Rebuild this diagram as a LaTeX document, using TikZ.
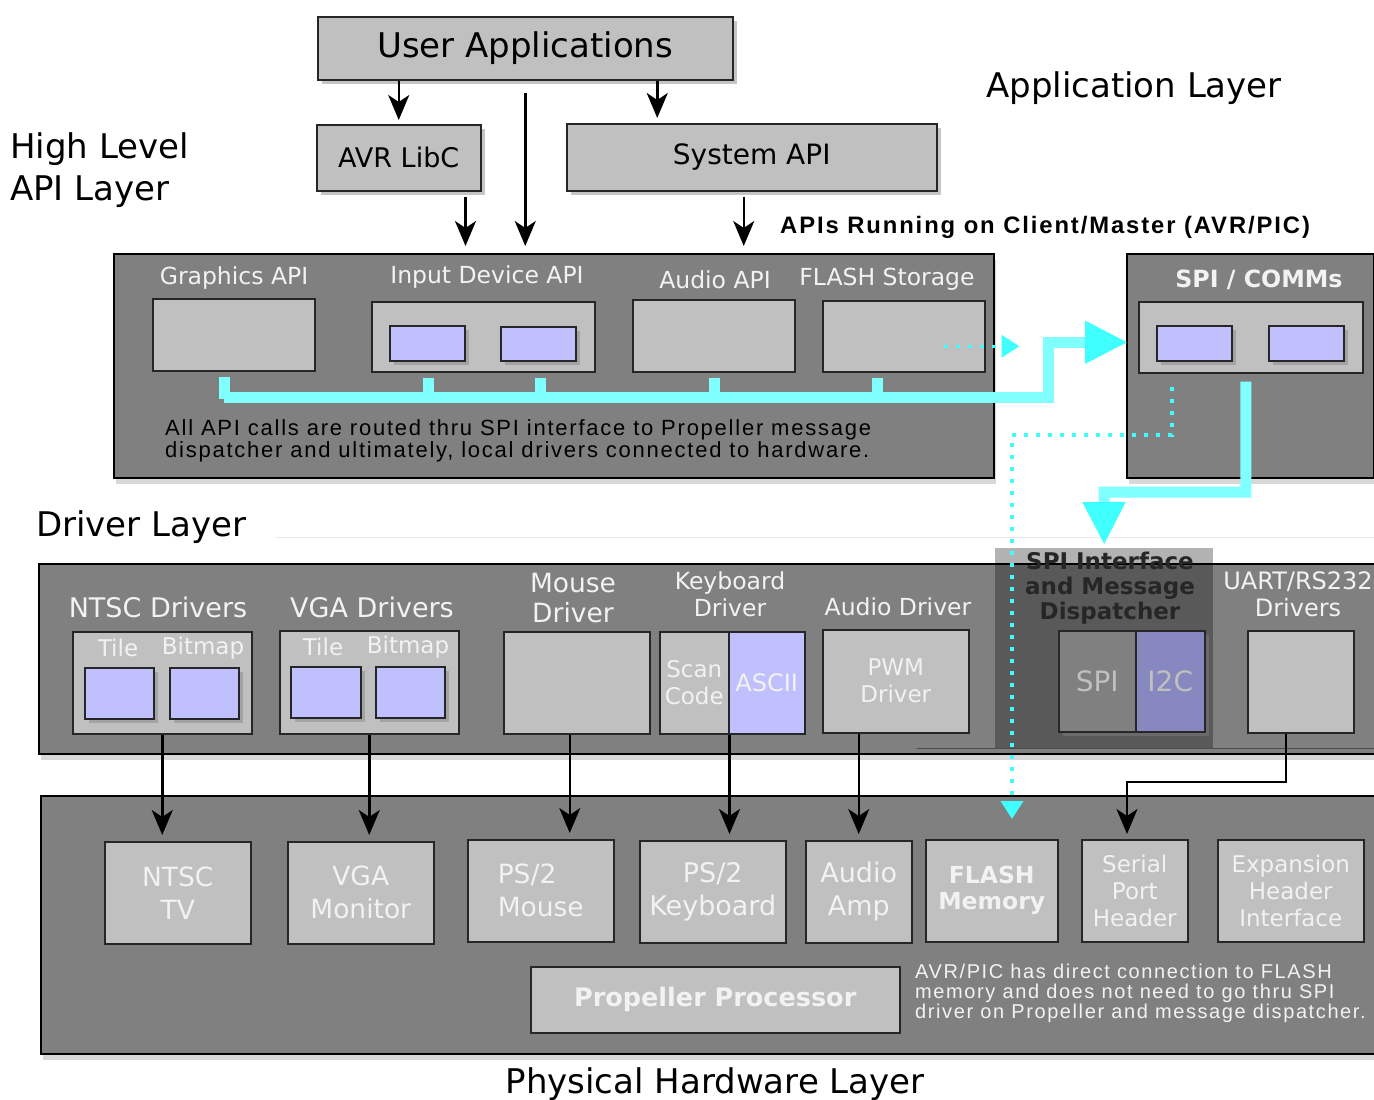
\documentclass[tikz,border=0pt]{standalone}
\usepackage{fontspec}
\setmainfont{DejaVu Sans}
\newfontfamily\arialf[LetterSpace=8]{Liberation Sans}
\usetikzlibrary{arrows.meta,shadows}
\newcommand\fz[2]{\fontsize{#1}{#2}\selectfont}
\definecolor{panelgray}{HTML}{808080}
\definecolor{boxgray}{HTML}{C0C0C0}
\definecolor{lav}{HTML}{C0C0FF}
\definecolor{i2cblue}{HTML}{8888C0}
\definecolor{busc}{HTML}{80FFFF}
\definecolor{headc}{HTML}{40FFFF}
\definecolor{txtw}{HTML}{F2F2F2}
\begin{document}
\begin{tikzpicture}[x=1pt, y=-1pt,
  panel/.style={draw=black, line width=1.5pt, fill=panelgray, anchor=north west, inner sep=0pt,
    drop shadow={shadow xshift=2pt, shadow yshift=-6pt, opacity=.3}},
  gbox/.style={draw=black!85, line width=1.5pt, fill=boxgray, anchor=north west, inner sep=0pt,
    align=center, text=txtw, drop shadow={shadow xshift=4pt, shadow yshift=-4pt, opacity=.45}},
  bbox/.style={gbox, fill=lav},
  lbl/.style={text=txtw, align=center, inner sep=0pt},
  ttl/.style={font=\fz{34}{42}, align=left, inner sep=0pt},
  dn/.style={line width=2.5pt, -{Stealth[length=25pt, width=21pt, inset=7pt]}},
  bus/.style={color=busc, line width=11pt},
  bighead/.style={-{Triangle[length=43pt, width=40pt, color=headc]}},
  dots/.style={color=headc, line width=3.5pt, dash pattern=on 4pt off 8pt,
    -{Triangle[length=18pt, width=22pt]}}]
  \useasboundingbox (0,0) rectangle (1374,1100);
  \fill[white] (0,0) rectangle (1374,1100);

  % application layer
  \node[gbox, minimum width=415pt, minimum height=63pt, text=black, font=\fz{34}{38}] (userapp) at (317,16) {User Applications};
  \node[gbox, minimum width=164pt, minimum height=66pt, text=black, font=\fz{27}{30}] (avrlibc) at (316,124) {AVR LibC};
  \node[gbox, minimum width=370pt, minimum height=67pt, text=black, font=\fz{28}{30}] (sysapi) at (566,123) {System API};
  \node[ttl, anchor=west] (hlapi) at (10,170) {High Level\\API Layer};
  \node[ttl] (applayer) at (1134,88) {Application Layer};
  \node[font=\arialf\bfseries\fz{23.8}{26}, anchor=west, inner sep=0pt] (clientlbl) at (780,227) {APIs Running on Client/Master (AVR/PIC)};

  % api panels
  \node[panel, minimum width=880pt, minimum height=224pt] (apipanel) at (113,253) {};
  \node[panel, minimum width=247pt, minimum height=224pt] (commpanel) at (1126,253) {};
  \node[lbl, font=\fz{23.5}{26}] (gfxlbl) at (234,278) {Graphics API};
  \node[lbl, font=\fz{23.5}{26}] (inplbl) at (487,277) {Input Device API};
  \node[lbl, font=\fz{23.5}{26}] (audlbl) at (715,280) {Audio API};
  \node[lbl, font=\fz{23.5}{26}] (flslbl) at (887,279) {FLASH Storage};
  \node[lbl, font=\bfseries\fz{23.7}{26}] (commlbl) at (1259,280) {SPI / COMMs};
  \node[gbox, minimum width=162pt, minimum height=72pt] (gfx) at (152,298) {};
  \node[gbox, minimum width=223pt, minimum height=70pt] (inpbox) at (371,301) {};
  \node[bbox, minimum width=75pt, minimum height=35pt] (inpA) at (389,325) {};
  \node[bbox, minimum width=75pt, minimum height=34pt] (inpB) at (500,326) {};
  \node[gbox, minimum width=162pt, minimum height=72pt] (audbox) at (632,299) {};
  \node[gbox, minimum width=162pt, minimum height=71pt] (flsbox) at (822,300) {};
  \node[gbox, minimum width=224pt, minimum height=71pt] (commbox) at (1138,301) {};
  \node[bbox, minimum width=75pt, minimum height=35pt] (commA) at (1156,325) {};
  \node[bbox, minimum width=75pt, minimum height=35pt] (commB) at (1268,325) {};
  \node[font=\arialf\fz{22}{22}, anchor=north west, align=left, inner sep=0pt] (apinote) at (165,419)
    {All API calls are routed thru SPI interface to Propeller message\\dispatcher and ultimately, local drivers connected to hardware.};

  % driver layer
  \node[ttl, anchor=west] (drvlayer) at (36,527) {Driver Layer};
  \draw[black!8, line width=1pt] (275,537) -- (1374,537);
  \node[panel, minimum width=1345pt, minimum height=190pt] (drvpanel) at (38,563) {};
  \node[anchor=north west, minimum width=218pt, minimum height=200pt, fill=black, fill opacity=.3, inner sep=0pt] (dispatch) at (995,548) {};
  \node[font=\bfseries\fz{23}{25}, text=black!85, align=center, inner sep=0pt] (displbl) at (1110,588) {SPI Interface\\and Message\\Dispatcher};
  \node[lbl, font=\fz{27}{30}] (ntsclbl) at (158,607) {NTSC Drivers};
  \node[lbl, font=\fz{27}{30}] (vgalbl) at (372,607) {VGA Drivers};
  \node[lbl, font=\fz{26.5}{30}] (mouselbl) at (573,598) {Mouse\\Driver};
  \node[lbl, font=\fz{23.5}{27}] (kbdlbl) at (730,594) {Keyboard\\Driver};
  \node[lbl, font=\fz{23.5}{27}] (audiolbl) at (898,607) {Audio Driver};
  \node[lbl, font=\fz{24}{27}] (uartlbl) at (1298,594) {UART/RS232\\Drivers};
  \node[gbox, minimum width=179pt, minimum height=102pt] (ntscdrv) at (72,631) {};
  \node[lbl, font=\fz{23}{25}] (ntsctile) at (118,648) {Tile};
  \node[lbl, font=\fz{23}{25}] (ntscbmp) at (203,648) {Bitmap};
  \node[bbox, minimum width=69pt, minimum height=51pt] (ntscA) at (84,667) {};
  \node[bbox, minimum width=69pt, minimum height=51pt] (ntscB) at (169,667) {};
  \node[gbox, minimum width=179pt, minimum height=103pt] (vgadrv) at (279,630) {};
  \node[lbl, font=\fz{23}{25}] (vgatile) at (323,647) {Tile};
  \node[lbl, font=\fz{23}{25}] (vgabmp) at (408,647) {Bitmap};
  \node[bbox, minimum width=70pt, minimum height=51pt] (vgaA) at (290,666) {};
  \node[bbox, minimum width=69pt, minimum height=51pt] (vgaB) at (375,666) {};
  \node[gbox, minimum width=146pt, minimum height=102pt] (mousedrv) at (503,631) {};
  \node[gbox, minimum width=69pt, minimum height=102pt, font=\fz{23}{27}] (scanbox) at (659,631) {Scan\\Code};
  \node[bbox, minimum width=76pt, minimum height=102pt, font=\fz{24}{27}] (asciibox) at (728,631) {ASCII};
  \node[gbox, minimum width=146pt, minimum height=103pt, font=\fz{23}{27}] (pwmdrv) at (822,629) {PWM\\Driver};
  \node[gbox, fill=panelgray, minimum width=77pt, minimum height=101pt, text=boxgray, font=\fz{28}{30}] (spibox) at (1058,630) {SPI};
  \node[gbox, fill=i2cblue, minimum width=69pt, minimum height=101pt, text=boxgray, font=\fz{28}{30}] (i2cbox) at (1135,630) {I2C};
  \node[gbox, minimum width=106pt, minimum height=102pt] (uartdrv) at (1247,630) {};
  \draw[black!70, line width=1pt] (917,748) -- (1374,748);

  % physical hardware layer
  \node[panel, minimum width=1345pt, minimum height=258pt] (hwpanel) at (40,795) {};
  \node[gbox, minimum width=146pt, minimum height=102pt, font=\fz{26.5}{33}] (ntsctv) at (104,841) {NTSC\\TV};
  \node[gbox, minimum width=146pt, minimum height=102pt, font=\fz{26.5}{33}] (vgamon) at (287,841) {VGA\\Monitor};
  \node[gbox, minimum width=146pt, minimum height=102pt, font=\fz{26.5}{33}, align=left] (ps2mouse) at (467,839) {PS/2\\Mouse};
  \node[gbox, minimum width=146pt, minimum height=102pt, font=\fz{27}{33}] (ps2kbd) at (639,840) {PS/2\\Keyboard};
  \node[gbox, minimum width=106pt, minimum height=102pt, font=\fz{27}{33}] (audioamp) at (805,840) {Audio\\Amp};
  \node[gbox, minimum width=132pt, minimum height=102pt, font=\bfseries\fz{23.5}{26}] (flashmem) at (925,839) {FLASH\\Memory};
  \node[gbox, minimum width=106pt, minimum height=102pt, font=\fz{23}{27}] (serial) at (1081,839) {Serial\\Port\\Header};
  \node[gbox, minimum width=146pt, minimum height=102pt, font=\fz{23}{27}] (expan) at (1217,839) {Expansion\\Header\\Interface};
  \node[gbox, minimum width=369pt, minimum height=66pt, font=\bfseries\fz{25.5}{28}] (propeller) at (530,966) {Propeller Processor};
  \node[font=\arialf\fz{20}{20}, text=txtw, anchor=north west, align=left, inner sep=0pt] (avrnote) at (915,964)
    {AVR/PIC has direct connection to FLASH\\memory and does not need to go thru SPI\\driver on Propeller and message dispatcher.};
  \node[ttl] (hwlayer) at (715,1084) {Physical Hardware Layer};

  % arrows from the applications
  \draw[dn, shorten >=4pt] (avrlibc.north |- userapp.south) -- (avrlibc.north);
  \coordinate (ua2) at ([xshift=132pt]userapp.south);
  \draw[dn, shorten >=5pt] (ua2) -- (ua2 |- sysapi.north);
  \draw[dn, shorten <=12pt, shorten >=7pt] (userapp.south) -- (userapp.south |- apipanel.north);
  \coordinate (lc) at ([xshift=-16pt]avrlibc.south east);
  \draw[dn, shorten <=5pt, shorten >=7pt] (lc) -- (lc |- apipanel.north);
  \coordinate (sa) at ([xshift=-8pt]sysapi.south);
  \draw[dn, shorten <=5pt, shorten >=7pt] (sa) -- (sa |- apipanel.north);

  % spi bus
  \coordinate (busL) at (224,397);
  \coordinate (busR) at (1048,397);
  \coordinate (commtip) at ([xshift=-10pt, yshift=-5pt]commbox.west);
  \foreach \n/\dx in {gfx/-9, inpbox/-55, inpbox/57, audbox/1, flsbox/-26}
    \draw[bus] ([xshift=\dx pt, yshift=-5pt]\n.south) -- ++(0,22);
  \draw[bus, bighead] (busL) -- (busR) |- (commtip);
  \coordinate (commout) at ([xshift=-5pt, yshift=-8pt]commbox.south);
  \coordinate (commturn) at (1104,492);
  \draw[bus, bighead, shorten >=3pt] (commout) |- (commturn) -- (dispatch.north);
  \coordinate (flsdot) at ([xshift=-42pt, yshift=-10pt]flsbox.east);
  \draw[dots] (flsdot) -- ++(76,0);
  \coordinate (commdot) at ([xshift=-79pt, yshift=-13pt]commbox.south);
  \coordinate (dotturn) at (1012,435);
  \draw[dots, shorten >=20pt] (commdot) |- (dotturn) -- (dotturn |- flashmem.north);

  % drivers to hardware
  \draw[dn, shorten >=6pt] (ntscdrv.south) -- (ntscdrv.south |- ntsctv.north);
  \draw[dn, shorten >=6pt] (vgadrv.south) -- (vgadrv.south |- vgamon.north);
  \coordinate (m1) at ([xshift=-7pt]mousedrv.south);
  \draw[dn, shorten >=6pt] (m1) -- (m1 |- ps2mouse.north);
  \draw[dn, shorten >=6pt] (scanbox.south east) -- (scanbox.south east |- ps2kbd.north);
  \draw[dn, shorten >=6pt] (audioamp.north |- pwmdrv.south) -- (audioamp.north);
  \coordinate (u1) at ([xshift=-15pt]uartdrv.south);
  \coordinate (u2) at (1127,782);
  \draw[dn, shorten >=5pt] (u1) |- (u2) -- (u2 |- serial.north);
\end{tikzpicture}
\end{document}
